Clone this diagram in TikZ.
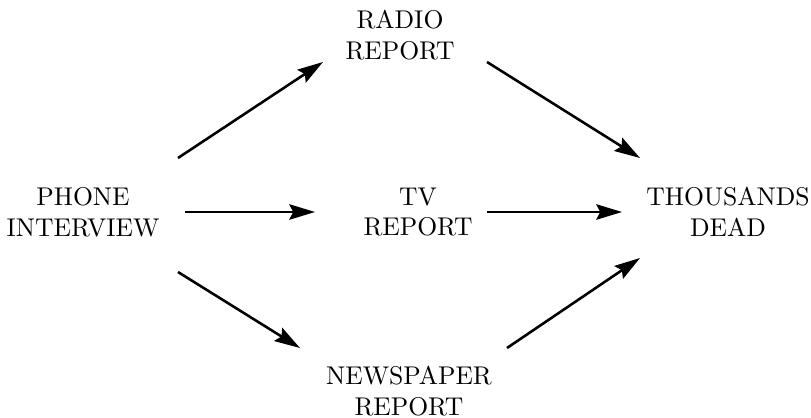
\documentclass[tikz,border=0pt]{standalone}
\usetikzlibrary{arrows.meta,calc}
\begin{document}
\begin{tikzpicture}[x=0.39pt,y=-0.39pt,
  lbl/.style={align=center,inner sep=0pt,font=\normalsize},
  arr/.style={line width=1pt,-{Stealth[length=10pt,width=6pt,inset=1.5pt]}}]
\useasboundingbox (0,0) rectangle (811,418);
\node[lbl] (phone) at (83,212) {PHONE\\INTERVIEW};
\node[lbl] (tv) at (418,212) {TV\\REPORT};
\node[lbl] (dead) at (728,212) {THOUSANDS\\DEAD};
\node[lbl] (radio) at (400,35) {RADIO\\REPORT};
\node[lbl] (news) at (409,391) {NEWSPAPER\\REPORT};
\draw[arr] ($(phone.center)+(95,-54)$) -- ($(radio.center)+(-77,27)$);
\draw[arr] ($(phone.center)+(102,0)$) -- ($(tv.center)+(-103,0)$);
\draw[arr] ($(phone.center)+(95,60)$) -- ($(news.center)+(-109,-43)$);
\draw[arr] ($(radio.center)+(87,27)$) -- ($(dead.center)+(-88,-54)$);
\draw[arr] ($(tv.center)+(69,0)$) -- ($(dead.center)+(-106,0)$);
\draw[arr] ($(news.center)+(98,-43)$) -- ($(dead.center)+(-88,46)$);
\end{tikzpicture}
\end{document}
